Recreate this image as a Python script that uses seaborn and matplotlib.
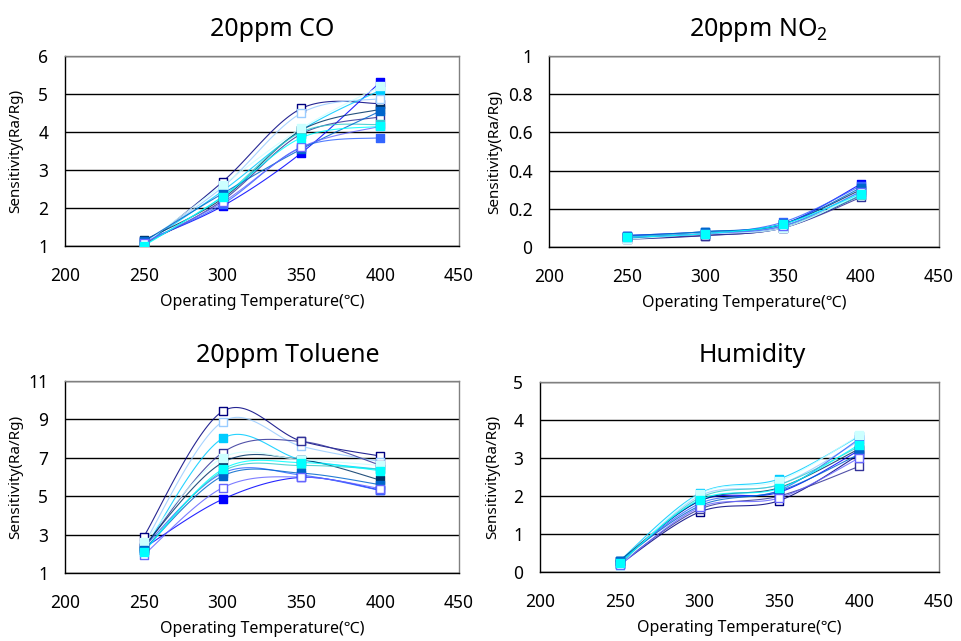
import numpy as np
import pandas as pd
import matplotlib
matplotlib.use("Agg")
import matplotlib.pyplot as plt
from matplotlib.ticker import FuncFormatter
import seaborn as sns

# ---------------- data ----------------
temps = [250, 300, 350, 400]
series = ["s1", "s2", "s3", "s4", "s5", "s6", "s7", "s8", "s9", "s10", "s11", "s12"]
colors = ["#000080", "#0000FF", "#00CCFF", "#99CCFF", "#3366FF", "#333399",
          "#003366", "#33CCCC", "#CCFFFF", "#0066CC", "#6666FF", "#00FFFF"]
hollow = [True, False, False, True, False, True, False, False, False, False, True, False]

co = [
    [1.00, 2.69, 4.62, 4.75],
    [1.12, 2.05, 3.45, 5.31],
    [1.05, 2.45, 4.05, 5.10],
    [1.08, 2.55, 4.50, 4.88],
    [1.10, 2.10, 3.60, 3.85],
    [1.05, 2.20, 3.95, 4.40],
    [1.15, 2.25, 4.05, 4.60],
    [1.02, 2.30, 4.00, 4.20],
    [1.05, 2.60, 4.10, 5.20],
    [1.12, 2.38, 3.55, 4.55],
    [1.08, 2.15, 3.60, 4.15],
    [1.00, 2.30, 3.85, 4.15],
]
no2 = [
    [0.04, 0.06, 0.10, 0.27],
    [0.06, 0.08, 0.12, 0.33],
    [0.05, 0.07, 0.11, 0.29],
    [0.05, 0.07, 0.10, 0.28],
    [0.06, 0.07, 0.13, 0.32],
    [0.05, 0.06, 0.10, 0.26],
    [0.05, 0.07, 0.12, 0.30],
    [0.05, 0.08, 0.11, 0.27],
    [0.04, 0.07, 0.10, 0.28],
    [0.06, 0.08, 0.12, 0.31],
    [0.05, 0.07, 0.11, 0.29],
    [0.05, 0.07, 0.12, 0.28],
]
toluene = [
    [2.90, 9.42, 7.87, 7.09],
    [2.30, 4.84, 5.98, 5.32],
    [2.20, 8.01, 6.90, 6.40],
    [2.50, 8.88, 7.60, 6.80],
    [2.35, 6.20, 6.10, 5.30],
    [2.30, 7.27, 7.85, 6.62],
    [2.40, 6.75, 6.90, 5.84],
    [2.20, 6.30, 6.60, 6.40],
    [2.60, 7.00, 6.90, 6.60],
    [2.20, 6.05, 6.20, 5.60],
    [1.94, 5.44, 6.00, 5.40],
    [2.10, 6.40, 6.75, 6.33],
]
humidity = [
    [0.20, 1.58, 1.88, 3.09],
    [0.25, 1.87, 2.10, 3.20],
    [0.30, 2.07, 2.45, 3.57],
    [0.20, 2.00, 2.30, 3.45],
    [0.28, 1.80, 2.15, 3.50],
    [0.22, 1.65, 2.00, 2.78],
    [0.30, 1.87, 2.22, 3.24],
    [0.20, 1.95, 2.30, 3.30],
    [0.15, 2.05, 2.40, 3.60],
    [0.30, 1.74, 2.13, 3.10],
    [0.18, 1.70, 1.95, 3.00],
    [0.25, 1.90, 2.20, 3.35],
]

titles = ["20ppm CO", "20ppm NO$_\\mathregular{2}$", "20ppm Toluene", "Humidity"]
x_ticks = [200, 250, 300, 350, 400, 450]
y_ranges = [(1, 6, 1), (0, 1, 0.2), (1, 11, 2), (0, 5, 1)]
xlabel = "Operating Temperature(\u2103)"
ylabel = "Sensitivity(Ra/Rg)"

# ---------------- style ----------------
sns.set_style("white")
plt.rcParams["font.family"] = ["Noto Sans", "Noto Sans CJK KR", "DejaVu Sans"]
plt.rcParams["mathtext.fontset"] = "custom"
plt.rcParams["mathtext.rm"] = "Noto Sans"
plt.rcParams["text.color"] = "black"
plt.rcParams["axes.labelcolor"] = "black"
plt.rcParams["xtick.color"] = "black"
plt.rcParams["ytick.color"] = "black"


def smooth(xs, ys, n=40):
    """Catmull-Rom rendering of the line through the data points (Excel-style smoothing)."""
    P = np.column_stack([xs, ys]).astype(float)
    P = np.vstack([P[0], P, P[-1]])
    out = []
    t = np.linspace(0, 1, n)
    for i in range(1, len(P) - 2):
        p0, p1, p2, p3 = P[i - 1], P[i], P[i + 1], P[i + 2]
        c1 = p1 + (p2 - p0) / 6
        c2 = p2 - (p3 - p1) / 6
        seg = ((1 - t)[:, None] ** 3 * p1 + 3 * ((1 - t) ** 2 * t)[:, None] * c1
               + 3 * ((1 - t) * t ** 2)[:, None] * c2 + (t ** 3)[:, None] * p2)
        out.append(seg if i == 1 else seg[1:])
    S = np.vstack(out)
    return S[:, 0], S[:, 1]


W, H = 962, 641
fig = plt.figure(figsize=(W / 100, H / 100), dpi=100)

# axes boxes in pixels: left, right, top, bottom
boxes = [(65, 459, 56, 246), (549, 939, 56, 247), (65, 459, 381, 573), (540, 939, 382, 572)]
ylabel_x = [23, 502, 23, 500]
title_x = [0.525, 0.538, 0.566, 0.531]
datasets = [co, no2, toluene, humidity]

for k, (l, r, t, b) in enumerate(boxes):
    ax = fig.add_axes([l / W, (H - b) / H, (r - l) / W, (b - t) / H])
    data = datasets[k]
    for i, name in enumerate(series):
        cx, cy = smooth(temps, data[i])
        sns.lineplot(x=cx, y=cy, ax=ax, sort=False, estimator=None,
                     color=colors[i], linewidth=0.8, alpha=0.85, legend=False)
    for i, name in enumerate(series):
        df = pd.DataFrame({"T": temps, "S": data[i]})
        sns.scatterplot(data=df, x="T", y="S", ax=ax, marker="s", s=26,
                        facecolor="white" if hollow[i] else colors[i],
                        edgecolor=colors[i], linewidth=1.0, legend=False, zorder=5)
    y0, y1, ys = y_ranges[k]
    ax.set_xlim(200, 450)
    ax.set_ylim(y0, y1)
    ax.set_xticks(x_ticks)
    ax.set_yticks(np.arange(y0, y1 + ys / 2, ys))
    ax.yaxis.set_major_formatter(FuncFormatter(lambda v, p: f"{round(v, 2):g}"))
    ax.grid(axis="y", color="black", linewidth=1.0)
    ax.grid(axis="x", visible=False)
    ax.set_axisbelow(True)
    for s in ["left", "bottom"]:
        ax.spines[s].set_color("black")
        ax.spines[s].set_linewidth(1.0)
    for s in ["top", "right"]:
        ax.spines[s].set_color("#808080")
        ax.spines[s].set_linewidth(1.0)
    ax.tick_params(axis="x", direction="in", length=4, width=1, color="black",
                   labelsize=12.5, pad=15)
    ax.tick_params(axis="y", length=0, labelsize=12.5, pad=12)
    ax.set_xlabel(xlabel, fontsize=11.5)
    ax.set_ylabel(ylabel, fontsize=11)
    hpx = b - t
    wpx = r - l
    ax.xaxis.set_label_coords(0.5, -48 / hpx)
    ax.yaxis.set_label_coords(-(l - ylabel_x[k]) / wpx, 0.5)
    ax.text(title_x[k], 1 + 26 / hpx, titles[k], transform=ax.transAxes,
            ha="center", va="center", fontsize=18)

fig.savefig("out.png", dpi=100, facecolor="white")
